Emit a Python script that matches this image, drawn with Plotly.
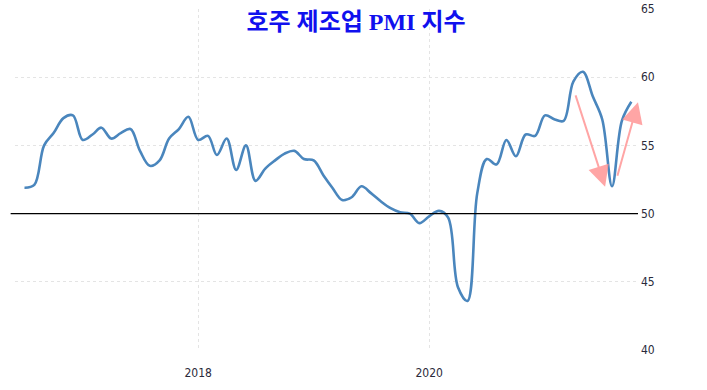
import plotly.graph_objects as go
import pandas as pd

title_text = "호주 제조업 PMI 지수"

months = pd.date_range("2016-07-01", "2021-10-01", freq="MS")
pmi = [
    51.9, 52.1, 55.0, 55.9, 57.0, 57.2,              # 2016 Jul-Dec
    55.4, 55.8, 56.3, 55.5, 55.9, 56.2,              # 2017 Jan-Jun
    54.6, 53.5, 53.9, 55.5, 56.2, 57.1,              # 2017 Jul-Dec
    55.4, 55.7, 54.3, 55.5, 53.2, 55.0,              # 2018 Jan-Jun
    52.4, 53.3, 53.9, 54.4, 54.6, 54.0,              # 2018 Jul-Dec
    53.9, 52.8, 51.9, 51.0, 51.2, 52.0,              # 2019 Jan-Jun
    51.5, 50.9, 50.4, 50.1, 50.0, 49.3,              # 2019 Jul-Dec
    49.8, 50.2, 49.7, 44.6, 43.6, 51.5,              # 2020 Jan-Jun
    54.0, 53.6, 55.4, 54.2, 55.8, 55.7,              # 2020 Jul-Dec
    57.2, 56.9, 56.8, 59.7, 60.4, 58.6,              # 2021 Jan-Jun
    56.9, 52.0, 56.8, 58.2,                          # 2021 Jul-Oct
]
y_ticks = [40, 45, 50, 55, 60, 65]
x_tick_dates = ["2018-01-01", "2020-01-01"]
x_tick_labels = ["2018", "2020"]
threshold = 50

# arrows: (tip date, tip value, tail offset px)
arrow_down = ("2021-07-10", 51.96, -30, -93)
arrow_up = ("2021-10-22", 58.17, -21, 75)

W, H = 707, 390

fig = go.Figure()
fig.add_trace(go.Scatter(
    x=months, y=pmi, mode="lines",
    line=dict(color="#4a86bd", width=2.6, shape="spline", smoothing=1.0),
    hoverinfo="skip", showlegend=False,
))

fig.add_shape(type="line", xref="paper", yref="y", x0=-0.007, x1=1.0,
              y0=threshold, y1=threshold, line=dict(color="black", width=1.3))

for tip_x, tip_y, ax, ay in (arrow_down, arrow_up):
    fig.add_annotation(x=tip_x, y=tip_y, xref="x", yref="y", ax=ax, ay=ay,
                       showarrow=True, arrowhead=2, arrowsize=2.1, arrowwidth=2,
                       arrowcolor="rgba(255,150,150,0.85)", text="")

tick_font = dict(family="Liberation Sans Narrow, DejaVu Sans Condensed, Arial Narrow, sans-serif",
                 size=12, color="#2a2a3a")

fig.update_layout(
    width=W, height=H,
    margin=dict(l=15, r=69, t=9, b=40),
    paper_bgcolor="white", plot_bgcolor="white",
    title=dict(text=title_text, x=356 / W, xref="container", xanchor="center",
               y=1 - 22 / H, yref="container", yanchor="middle",
               font=dict(family="Liberation Serif, Noto Sans CJK KR, serif",
                         size=24, color="#1010ee", weight=700)),
    xaxis=dict(range=["2016-06-01", "2021-10-22"], tickvals=x_tick_dates,
               ticktext=x_tick_labels, showgrid=True, gridcolor="#e4e4e4",
               griddash="dot", gridwidth=1, zeroline=False, showline=False,
               ticks="", ticklabelstandoff=14, tickfont=tick_font, automargin=False),
    yaxis=dict(range=[40, 65], tickvals=y_ticks, side="right",
               showgrid=True, gridcolor="#e4e4e4", griddash="dot", gridwidth=1,
               zeroline=False, showline=False, ticks="", ticklabelstandoff=2,
               ticklabeloverflow="allow", tickfont=tick_font, automargin=False),
)

fig.write_html("out.html", config={"displayModeBar": False},
               post_script="document.body.style.margin='0';document.body.style.overflow='hidden';")
